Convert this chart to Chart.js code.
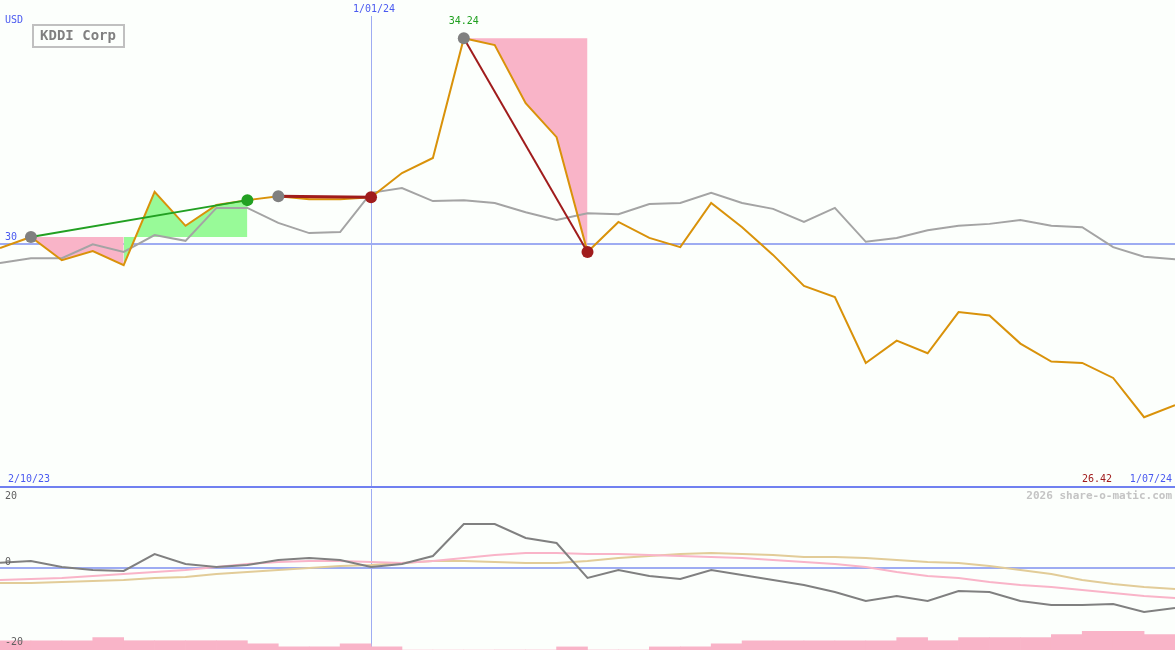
<!DOCTYPE html>
<html>
<head>
<meta charset="utf-8">
<script src="https://cdn.jsdelivr.net/npm/chart.js@4.4.0/dist/chart.umd.min.js"></script>
<style>
  body { margin: 0; background: #fcfffc; }
  #wrap { position: relative; width: 1175px; height: 650px; overflow: hidden; background: #fcfffc; }
  #priceCanvas { position: absolute; left: 0; top: 0; }
  #sep { position: absolute; left: 0; top: 486px; width: 1175px; height: 2px; background: #7080f0; }
  #oscCanvas { position: absolute; left: 0; top: 489px; }
</style>
</head>
<body>
<div id="wrap">
  <canvas id="priceCanvas" width="1175" height="487"></canvas>
  <div id="sep"></div>
  <canvas id="oscCanvas" width="1175" height="161"></canvas>
</div>
<script>
// weekly closes, 2/10/23 .. 1/07/24 (USD)
const closes = [29.91, 30.14, 29.66, 29.85, 29.56, 31.07, 30.37, 30.80, 30.90, 30.98,
  30.92, 30.92, 30.96, 31.46, 31.77, 34.24, 34.10, 32.90, 32.20, 29.83,
  30.45, 30.12, 29.93, 30.84, 30.34, 29.77, 29.13, 28.90, 27.54, 28.00,
  27.74, 28.59, 28.52, 27.94, 27.57, 27.54, 27.23, 26.42, 26.67];
const average = [29.60, 29.70, 29.70, 29.99, 29.83, 30.18, 30.06, 30.74, 30.74, 30.43,
  30.22, 30.24, 31.05, 31.15, 30.88, 30.90, 30.84, 30.65, 30.49, 30.63,
  30.61, 30.82, 30.84, 31.05, 30.84, 30.72, 30.45, 30.74, 30.04, 30.12,
  30.28, 30.37, 30.41, 30.49, 30.37, 30.34, 29.93, 29.73, 29.68];
// lower panel
const momentum = [1.3, 1.75, 0.25, -0.5, -0.75, 3.5, 1.0, 0.25, 0.75, 2.0,
  2.5, 2.0, 0.25, 1.0, 3.0, 11.0, 11.0, 7.5, 6.25, -2.5,
  -0.5, -2.0, -2.75, -0.5, -1.75, -3.0, -4.25, -6.0, -8.25, -7.0,
  -8.25, -5.75, -6.0, -8.25, -9.25, -9.25, -9.0, -11.0, -10.0];
const signalPink = [-3.0, -2.75, -2.5, -2.0, -1.5, -1.0, -0.5, 0.25, 1.0, 1.5,
  1.75, 1.75, 1.5, 1.25, 1.75, 2.5, 3.25, 3.75, 3.75, 3.5,
  3.5, 3.25, 3.0, 2.75, 2.5, 2.0, 1.5, 1.0, 0.25, -1.0,
  -2.0, -2.5, -3.5, -4.25, -4.75, -5.5, -6.25, -7.0, -7.5];
const signalTan = [-3.75, -3.75, -3.5, -3.25, -3.0, -2.5, -2.25, -1.5, -1.0, -0.5,
  0, 0.5, 0.75, 1.25, 1.75, 1.75, 1.5, 1.25, 1.25, 1.75,
  2.5, 3.0, 3.5, 3.75, 3.5, 3.25, 2.75, 2.75, 2.5, 2.0,
  1.5, 1.25, 0.5, -0.5, -1.5, -3.0, -4.0, -4.75, -5.25];
const volume = [3, 3, 3, 4, 3, 3, 3, 3, 2, 1,
  1, 2, 1, 0, 0, 0, 0, 0, 1, 0,
  0, 1, 1, 2, 3, 3, 3, 3, 3, 4,
  3, 4, 4, 4, 5, 6, 6, 5];

const dateLabels = ["2/10/23", "1/01/24", "1/07/24"];
const dateIndex = [0, 12, 38];
const oscTicks = [20, 0, -20];
const markIndex = [1, 8, 9, 12, 15, 19];
const markColors = ["#808080", "#22a022", "#808080", "#a01c1c", "#808080", "#a01c1c"];

const pts = (arr, from, to) => arr.slice(from, to + 1).map((v, k) => ({ x: from + k, y: v }));
const lastIdx = closes.length - 1;
const minIdx = closes.indexOf(Math.min(...closes));
const maxIdx = closes.indexOf(Math.max(...closes));

const mono = "DejaVu Sans Mono";
const blue = "#4a5af0";
const lineBlue = "#9eacf2";

const priceLabels = {
  id: "priceLabels",
  beforeDatasetsDraw(chart) {
    const { ctx, scales: { x, y } } = chart;
    ctx.save();
    ctx.fillStyle = lineBlue;
    ctx.fillRect(0, Math.round(y.getPixelForValue(30)) - 1, 1175, 2);
    ctx.fillRect(Math.round(x.getPixelForValue(dateIndex[1])), 16, 1, 471);
    ctx.restore();
  },
  afterDatasetsDraw(chart) {
    const { ctx, scales: { x, y } } = chart;
    ctx.save();
    ctx.textBaseline = "middle";
    ctx.font = "10px " + mono;
    ctx.fillStyle = blue;
    ctx.textAlign = "left";
    ctx.fillText("USD", 5, 20);
    ctx.fillText("30", 5, y.getPixelForValue(30) - 6);
    ctx.fillText(dateLabels[0], 8, 479);
    ctx.textAlign = "center";
    ctx.fillText(dateLabels[1], x.getPixelForValue(dateIndex[1]) + 3, 9);
    ctx.textAlign = "right";
    ctx.fillText(dateLabels[2], 1172, 479);
    ctx.fillStyle = "#a01c1c";
    ctx.fillText(closes[minIdx].toFixed(2), 1112, 479);
    ctx.textAlign = "center";
    ctx.fillStyle = "#20a020";
    ctx.fillText(closes[maxIdx].toFixed(2), x.getPixelForValue(maxIdx), y.getPixelForValue(closes[maxIdx]) - 17);
    // title box
    ctx.strokeStyle = "#c0c0c0";
    ctx.lineWidth = 2;
    ctx.strokeRect(33, 25, 91, 22);
    ctx.fillStyle = "#808080";
    ctx.font = "bold 14px " + mono;
    ctx.fillText("KDDI Corp", 78, 36);
    ctx.restore();
  }
};

const fillSet = (from, to, level, color) => ({
  data: pts(closes, from, to),
  borderWidth: 0,
  pointRadius: 0,
  backgroundColor: color,
  fill: { value: level },
  order: 5
});

new Chart(document.getElementById("priceCanvas"), {
  type: "line",
  data: {
    datasets: [
      {
        data: markIndex.map(i => ({ x: i, y: closes[i] })),
        showLine: false,
        pointRadius: 6,
        pointBorderWidth: 0,
        pointBackgroundColor: markColors,
        order: 0
      },
      { data: [{ x: 1, y: closes[1] }, { x: 8, y: closes[8] }], borderColor: "#22a022", borderWidth: 2, pointRadius: 0, order: 1 },
      { data: [{ x: 9, y: closes[9] }, { x: 12, y: closes[12] }], borderColor: "#a01c1c", borderWidth: 3, pointRadius: 0, order: 1 },
      { data: [{ x: 15, y: closes[15] }, { x: 19, y: closes[19] }], borderColor: "#a01c1c", borderWidth: 2, pointRadius: 0, order: 1 },
      { data: pts(closes, 0, lastIdx), borderColor: "#d9920a", borderWidth: 2, pointRadius: 0, order: 2 },
      { data: pts(average, 0, lastIdx), borderColor: "#a4a4a4", borderWidth: 2, pointRadius: 0, order: 3 },
      fillSet(1, 4, closes[1], "#f9b4c8"),
      fillSet(4, 8, closes[1], "#98fa98"),
      fillSet(9, 12, closes[9], "#f9b4c8"),
      fillSet(15, 19, closes[15], "#f9b4c8")
    ]
  },
  options: {
    responsive: false,
    animation: false,
    devicePixelRatio: 1,
    layout: { padding: 0, autoPadding: false },
    plugins: { legend: { display: false }, tooltip: { enabled: false } },
    elements: { line: { tension: 0 } },
    scales: {
      x: { type: "linear", min: 0, max: lastIdx, display: false },
      y: { min: 24.98, max: 35.03, display: false }
    }
  },
  plugins: [priceLabels]
});

const oscLabels = {
  id: "oscLabels",
  beforeDatasetsDraw(chart) {
    const { ctx, scales: { x, y } } = chart;
    ctx.save();
    ctx.fillStyle = lineBlue;
    ctx.fillRect(0, Math.round(y.getPixelForValue(0)) - 1, 1175, 2);
    ctx.fillRect(Math.round(x.getPixelForValue(dateIndex[1])), 0, 1, 158);
    ctx.restore();
  },
  afterDatasetsDraw(chart) {
    const { ctx, scales: { y } } = chart;
    ctx.save();
    ctx.textBaseline = "middle";
    ctx.font = "10px " + mono;
    ctx.fillStyle = "#606060";
    ctx.textAlign = "left";
    ctx.fillText(String(oscTicks[0]), 5, 7);
    ctx.fillText(String(oscTicks[1]), 5, y.getPixelForValue(0) - 6);
    ctx.fillText(String(oscTicks[2]), 5, 153);
    ctx.textAlign = "right";
    ctx.font = "bold 11px " + mono;
    ctx.fillStyle = "#c4c4c4";
    ctx.fillText("2026 share-o-matic.com", 1172, 7);
    ctx.restore();
  }
};

new Chart(document.getElementById("oscCanvas"), {
  type: "line",
  data: {
    datasets: [
      { data: pts(momentum, 0, lastIdx), borderColor: "#808080", borderWidth: 2, pointRadius: 0, order: 0 },
      { data: pts(signalPink, 0, lastIdx), borderColor: "#f9b4c8", borderWidth: 2, pointRadius: 0, order: 1 },
      { data: pts(signalTan, 0, lastIdx), borderColor: "#e2cc98", borderWidth: 2, pointRadius: 0, order: 2 },
      {
        type: "bar",
        data: volume.map((v, i) => ({ x: i + 0.5, y: v })),
        backgroundColor: "#f9b4c8",
        borderWidth: 0,
        barPercentage: 1,
        categoryPercentage: 1,
        yAxisID: "yv",
        order: 3
      }
    ]
  },
  options: {
    responsive: false,
    animation: false,
    devicePixelRatio: 1,
    layout: { padding: 0, autoPadding: false },
    plugins: { legend: { display: false }, tooltip: { enabled: false } },
    elements: { line: { tension: 0 } },
    scales: {
      x: { type: "linear", min: 0, max: lastIdx, display: false, offset: false },
      y: { min: -20.5, max: 19.75, display: false },
      yv: { min: 0, max: 52, display: false }
    }
  },
  plugins: [oscLabels]
});
</script>
</body>
</html>
